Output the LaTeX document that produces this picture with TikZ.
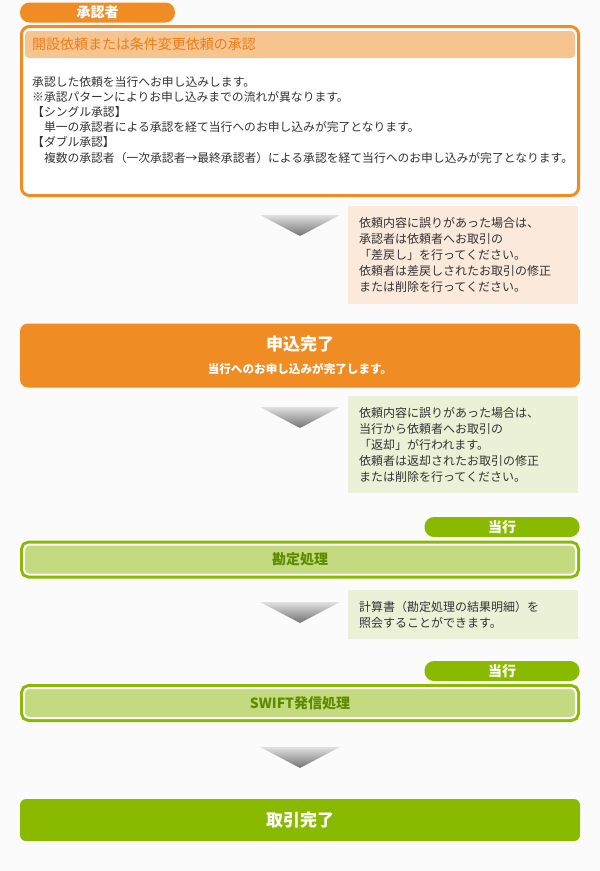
\documentclass[tikz,border=0pt]{standalone}
\usepackage{fontspec}
\setmainfont{Noto Sans CJK JP}
\definecolor{pageBg}{HTML}{FBFBFB}
\definecolor{textDark}{HTML}{333333}
\definecolor{orangeMain}{HTML}{F08C24}
\definecolor{orangeHead}{HTML}{F5C48F}
\definecolor{orangeText}{HTML}{EE7D17}
\definecolor{orangeNote}{HTML}{FBEADB}
\definecolor{greenMain}{HTML}{8ABA00}
\definecolor{greenFill}{HTML}{C3DA80}
\definecolor{greenText}{HTML}{5E8A00}
\definecolor{greenNote}{HTML}{EBF1D7}
\tikzset{
  tagBox/.style={rectangle, rounded corners=9.5pt, minimum width=155pt, minimum height=20pt, inner sep=0pt, text=white, font=\fontsize{14}{16}\selectfont\bfseries},
  noteBox/.style={rectangle, inner xsep=11pt, text width=208pt, align=left, text=textDark, font=\fontsize{12}{16}\selectfont},
  procBox/.style={rectangle, rounded corners=5pt, minimum width=552pt, minimum height=30pt, fill=greenFill, draw=white, line width=2pt, preaction={draw=greenMain, line width=8pt}, text=greenText, font=\fontsize{14}{16}\selectfont\bfseries},
  doneBox/.style={rectangle, minimum width=560pt, text=white},
  flowArrow/.style={top color=black!12, bottom color=black!55}
}
\begin{document}
\begin{tikzpicture}[x=1pt, y=-1pt]
			\useasboundingbox (0,0) rectangle (600,871);
			\fill[pageBg] (0,0) rectangle (600,871);

			\node[tagBox, fill=orangeMain](approverTag) at (97.5,12.5){承認者};
			\node[rectangle, rounded corners=8pt, fill=white, draw=orangeMain, line width=3pt, minimum width=557pt, minimum height=169pt](approveBox) at (300,111){};
			\node[rectangle, rounded corners=4pt, fill=orangeHead, minimum width=550pt, minimum height=27pt, inner xsep=7pt, text width=536pt, align=left, text=orangeText, font=\fontsize{14}{16}\selectfont](approveHead) at (300,44.5){開設依頼または条件変更依頼の承認};
			\node[anchor=north west, inner sep=0pt, align=left, text=textDark, font=\fontsize{11.8}{15.2}\selectfont](approveText) at (32,76){承認した依頼を当行へお申し込みします。\\※承認パターンによりお申し込みまでの流れが異なります。\\【シングル承認】\\　単一の承認者による承認を経て当行へのお申し込みが完了となります。\\【ダブル承認】\\　複数の承認者（一次承認者→最終承認者）による承認を経て当行へのお申し込みが完了となります。};

			\shade[flowArrow] (260,215) -- (340,215) -- (300,236) -- cycle;
			\node[noteBox, fill=orangeNote, minimum height=98pt](returnNote) at (463,255){依頼内容に誤りがあった場合は、\\承認者は依頼者へお取引の\\「差戻し」を行ってください。\\依頼者は差戻しされたお取引の修正\\または削除を行ってください。};

			\node[doneBox, rounded corners=8pt, fill=orangeMain, minimum height=64pt, align=center, font=\fontsize{11.6}{23}\selectfont\bfseries](applyDone) at (300,355.5){{\fontsize{17}{20}\selectfont 申込完了}\\当行へのお申し込みが完了します。};

			\shade[flowArrow] (260,407) -- (340,407) -- (300,428) -- cycle;
			\node[noteBox, fill=greenNote, minimum height=97pt](bankReturnNote) at (463,444.5){依頼内容に誤りがあった場合は、\\当行から依頼者へお取引の\\「返却」が行われます。\\依頼者は返却されたお取引の修正\\または削除を行ってください。};

			\node[tagBox, fill=greenMain](bankTag1) at (502,527){当行};
			\node[procBox](accountBox) at (300,559.5){勘定処理};

			\shade[flowArrow] (260,602) -- (340,602) -- (300,623) -- cycle;
			\node[noteBox, fill=greenNote, minimum height=49pt](statementNote) at (463,614.5){計算書（勘定処理の結果明細）を\\照会することができます。};

			\node[tagBox, fill=greenMain](bankTag2) at (502,671){当行};
			\node[procBox](swiftBox) at (300,703){SWIFT発信処理};

			\shade[flowArrow] (260,747) -- (340,747) -- (300,768) -- cycle;
			\node[doneBox, rounded corners=6pt, fill=greenMain, minimum height=42pt, font=\fontsize{17}{20}\selectfont\bfseries](dealDone) at (300,820){取引完了};
		\end{tikzpicture}
\end{document}
